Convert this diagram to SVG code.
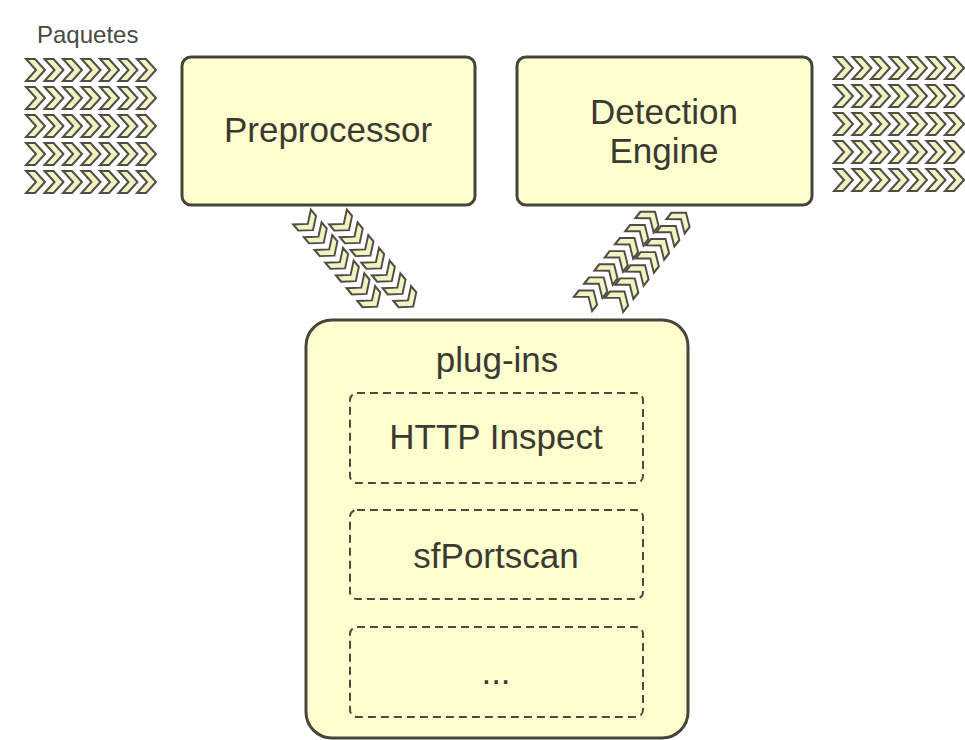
<svg xmlns="http://www.w3.org/2000/svg" width="965" height="740" viewBox="0 0 965 740">
  <style>
    .box { fill: #fefecf; stroke: #45453a; stroke-width: 3; }
    .inner { fill: none; stroke: #4a4a3e; stroke-width: 2; stroke-dasharray: 8 5; }
    .lbl { font-family: "Liberation Sans", Arial, sans-serif; font-size: 35px; fill: #3a3a30; text-anchor: middle; }
    .small { font-family: "Liberation Sans", Arial, sans-serif; font-size: 24px; fill: #4a4a40; }
    .chev { fill: #f2f2c2; stroke: #4e4e44; stroke-width: 2; stroke-linejoin: miter; }
  </style>
  <defs>
    <!-- single right-pointing chevron -->
    <polygon id="chev" class="chev" points="0,-11 9,-11 19,0 9,11 0,11 10,0"/>
    <!-- a row of seven chevrons -->
    <g id="row">
      <use href="#chev" x="0"/>
      <use href="#chev" x="18.5"/>
      <use href="#chev" x="37"/>
      <use href="#chev" x="55.5"/>
      <use href="#chev" x="74"/>
      <use href="#chev" x="92.5"/>
      <use href="#chev" x="111"/>
    </g>
  </defs>

  <rect width="965" height="740" fill="#ffffff"/>

  <!-- incoming packets -->
  <g id="packets-in">
    <text class="small" x="37" y="43">Paquetes</text>
    <use href="#row" transform="translate(26,70)"/>
    <use href="#row" transform="translate(26,98)"/>
    <use href="#row" transform="translate(26,126)"/>
    <use href="#row" transform="translate(26,154)"/>
    <use href="#row" transform="translate(26,182)"/>
  </g>

  <!-- outgoing packets -->
  <g id="packets-out">
    <use href="#row" transform="translate(834,68)"/>
    <use href="#row" transform="translate(834,96)"/>
    <use href="#row" transform="translate(834,124)"/>
    <use href="#row" transform="translate(834,152)"/>
    <use href="#row" transform="translate(834,180)"/>
  </g>

  <!-- flows between the engine blocks and the plug-ins -->
  <g id="connectors">
    <use href="#row" transform="translate(302,217) rotate(50) scale(0.9,1.05)"/>
    <use href="#row" transform="translate(338,217) rotate(50) scale(0.9,1.05)"/>
    <use href="#row" transform="translate(583,304) rotate(-52) scale(0.9,1.05)"/>
    <use href="#row" transform="translate(614,305) rotate(-52) scale(0.9,1.05)"/>
  </g>

  <g id="preprocessor">
    <rect class="box" x="182" y="57" width="293" height="148" rx="9"/>
    <text class="lbl" x="328" y="142">Preprocessor</text>
  </g>

  <g id="detection-engine">
    <rect class="box" x="517" y="57" width="295" height="148" rx="9"/>
    <text class="lbl" x="664" y="124">Detection</text>
    <text class="lbl" x="664" y="163">Engine</text>
  </g>

  <g id="plug-ins">
    <rect class="box" x="306" y="320" width="382" height="418" rx="26"/>
    <text class="lbl" x="497" y="372">plug-ins</text>
  </g>

  <g id="http-inspect">
    <rect class="inner" x="350" y="393" width="293" height="90" rx="7"/>
    <text class="lbl" x="496" y="449">HTTP Inspect</text>
  </g>

  <g id="sfportscan">
    <rect class="inner" x="350" y="510" width="293" height="89" rx="7"/>
    <text class="lbl" x="496" y="568">sfPortscan</text>
  </g>

  <g id="more">
    <rect class="inner" x="350" y="627" width="293" height="90" rx="7"/>
    <text class="lbl" x="496" y="684">...</text>
  </g>
</svg>
